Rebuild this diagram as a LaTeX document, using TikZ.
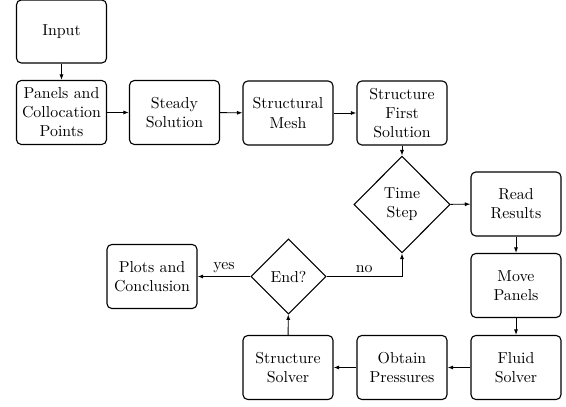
\documentclass[tikz,border=0pt]{standalone}
\usetikzlibrary{shapes.geometric,arrows.meta}
\begin{document}
\begin{tikzpicture}[x=0.63pt,y=-0.63pt,
  box/.style={draw,line width=0.7pt,rounded corners=3pt,minimum width=56.7pt,minimum height=40.3pt,align=center,inner sep=1pt},
  dia/.style={draw,line width=0.7pt,diamond,aspect=1,inner sep=0pt,align=center},
  arr/.style={line width=0.6pt,-{Latex[length=3.5pt,width=2.6pt]}},
  lbl/.style={above,inner sep=2pt}]
\useasboundingbox (0,0) rectangle (566,407);
\node[box,minimum height=39.7pt] (input) at (61.5,31.5) {Input};
\node[box] (panels) at (61.5,112.5) {Panels and\\Collocation\\Points};
\node[box] (steady) at (174.5,112.5) {Steady\\Solution};
\node[box] (mesh) at (288,113) {Structural\\Mesh};
\node[box] (first) at (402,113) {Structure\\First\\Solution};
\node[dia,minimum width=60.5pt,minimum height=61pt] (time) at (402,204.5) {Time\\Step};
\node[box] (read) at (516,204) {Read\\Results};
\node[box] (move) at (516,285.5) {Move\\Panels};
\node[box] (fluid) at (516,367.5) {Fluid\\Solver};
\node[box] (obtain) at (402,367.5) {Obtain\\Pressures};
\node[box] (ssolver) at (288,367.5) {Structure\\Solver};
\node[dia,minimum width=47.3pt,minimum height=47.3pt] (end) at (288.5,276.5) {End?};
\node[box] (plots) at (152,276.5) {Plots and\\Conclusion};
\coordinate (corner) at (time.south |- end.east);
\draw[arr] (input) -- (panels);
\draw[arr] (panels) -- (steady);
\draw[arr] (steady) -- (mesh);
\draw[arr] (mesh) -- (first);
\draw[arr] (first) -- (time);
\draw[arr] (time) -- (read);
\draw[arr] (read) -- (move);
\draw[arr] (move) -- (fluid);
\draw[arr] (fluid) -- (obtain);
\draw[arr] (obtain) -- (ssolver);
\draw[arr] (ssolver) -- (end);
\draw[arr] (end) -- node[lbl]{yes} (plots);
\draw[arr] (end.east) -- node[lbl]{no} (corner) -- (time.south);
\end{tikzpicture}
\end{document}
